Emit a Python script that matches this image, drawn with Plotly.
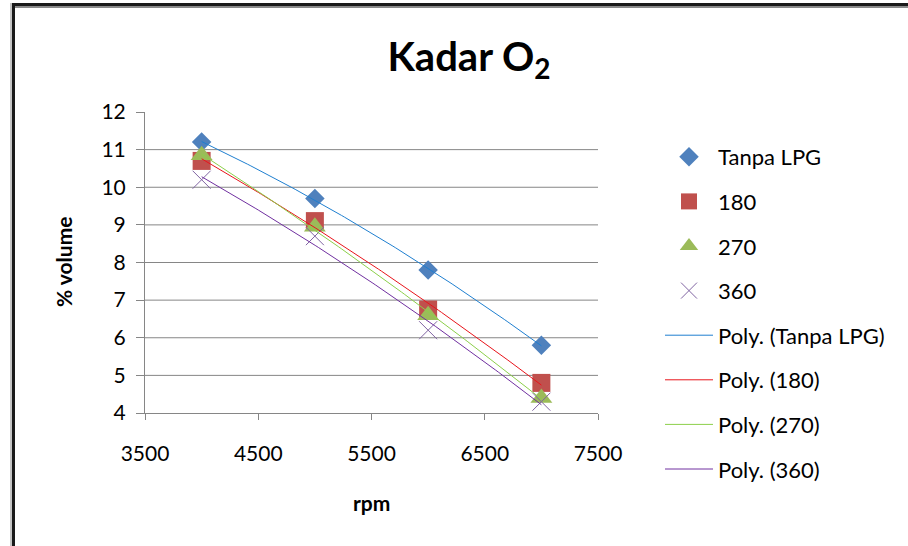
import numpy as np
import plotly.graph_objects as go

# ---- data ----
rpm = [4000, 5000, 6000, 7000]
tanpa_lpg = [11.2, 9.7, 7.8, 5.8]
lpg_180 = [10.7, 9.1, 6.75, 4.8]
lpg_270 = [10.85, 8.95, 6.6, 4.4]
lpg_360 = [10.2, 8.7, 6.2, 4.3]
series_names = ["Tanpa LPG", "180", "270", "360"]
x_ticks = [3500, 4500, 5500, 6500, 7500]
y_ticks = [4, 5, 6, 7, 8, 9, 10, 11, 12]
grid_vals = [5, 6, 7, 8, 9, 10, 11]

# ---- layout helpers (pixel -> paper) ----
W, H = 908, 546
L, R, T, B = 145, 598, 112, 413
def px(x):
    return (x - L) / (R - L)
def py(y):
    return (B - y) / (B - T)

FONT = "Lato, 'Open Sans', sans-serif"
marker_colors = ["#4F81BD", "#C0504D", "#9BBB59", "#8064A2"]
trend_colors = ["#1F7FD0", "#E8141B", "#8CCF4A", "#7030A0"]
symbols = ["diamond", "square", "triangle-up", "x-thin-open"]
sizes = [15, 18, 19, 18]

fig = go.Figure()
all_series = [tanpa_lpg, lpg_180, lpg_270, lpg_360]
for i, (name, ys) in enumerate(zip(series_names, all_series)):
    mk = dict(symbol=symbols[i], size=sizes[i], color=marker_colors[i])
    if symbols[i] == "x-thin-open":
        mk["line"] = dict(color=marker_colors[i], width=1)
    fig.add_trace(go.Scatter(x=rpm, y=ys, mode="markers", name=name,
                             marker=mk, legendgroup=f"g{i}"))

xs = np.linspace(min(rpm), max(rpm), 120)
for i, (name, ys) in enumerate(zip(series_names, all_series)):
    coef = np.polyfit(rpm, ys, 2)
    fig.add_trace(go.Scatter(x=xs, y=np.polyval(coef, xs), mode="lines",
                             name=f"Poly. ({name})",
                             line=dict(color=trend_colors[i], width=1),
                             legendgroup=f"t{i}"))

shapes = []
for g in grid_vals:
    shapes.append(dict(type="line", xref="paper", yref="y", x0=0, x1=1, y0=g, y1=g,
                       line=dict(color="#868686", width=1), layer="below"))
# frame borders
shapes += [
    dict(type="line", xref="paper", yref="paper", x0=px(12), x1=px(W), y0=py(4.5), y1=py(4.5),
         line=dict(color="#1a1a1a", width=3)),
    dict(type="line", xref="paper", yref="paper", x0=px(15), x1=px(W), y0=py(7), y1=py(7),
         line=dict(color="#8a8a8a", width=2)),
    dict(type="line", xref="paper", yref="paper", x0=px(13.5), x1=px(13.5), y0=py(3), y1=py(H),
         line=dict(color="#1a1a1a", width=3)),
    dict(type="line", xref="paper", yref="paper", x0=px(11), x1=px(11), y0=py(3), y1=py(H),
         line=dict(color="#8a8a8a", width=1)),
]

fig.update_layout(
    width=W, height=H,
    margin=dict(l=L, r=W - R, t=T, b=H - B),
    paper_bgcolor="white", plot_bgcolor="rgba(0,0,0,0)",
    font=dict(family=FONT, size=21, color="black"),
    title=dict(text="<b>Kadar O<sub>2</sub></b>", xref="paper", x=px(469), xanchor="center",
               yref="container", y=1 - 57 / H, yanchor="middle",
               font=dict(family=FONT, size=40, color="black")),
    xaxis=dict(range=[3500, 7500], tickvals=x_ticks, showgrid=False, zeroline=False,
               showline=True, linecolor="#868686", linewidth=1,
               ticks="outside", ticklen=6, tickcolor="#868686",
               ticklabelstandoff=16, tickfont=dict(size=21)),
    yaxis=dict(range=[4, 12], tickvals=y_ticks, showgrid=False, zeroline=False,
               showline=True, linecolor="#868686", linewidth=1,
               ticks="outside", ticklen=8, tickcolor="#868686",
               ticklabelstandoff=6, tickfont=dict(size=21)),
    shapes=shapes,
    showlegend=True,
    legend=dict(x=px(660), xanchor="left", y=py(136), yanchor="top",
                itemwidth=48, tracegroupgap=13, font=dict(size=22),
                maxheight=520, bgcolor="rgba(0,0,0,0)"),
    annotations=[
        dict(text="<b>% volume</b>", xref="paper", yref="paper", x=px(63), y=py(262),
             textangle=-90, showarrow=False, xanchor="center", yanchor="middle",
             font=dict(size=21)),
        dict(text="<b>rpm</b>", xref="paper", yref="paper", x=px(371), y=py(502),
             showarrow=False, xanchor="center", yanchor="middle", font=dict(size=21)),
    ],
)

fig.write_html("out.html")
